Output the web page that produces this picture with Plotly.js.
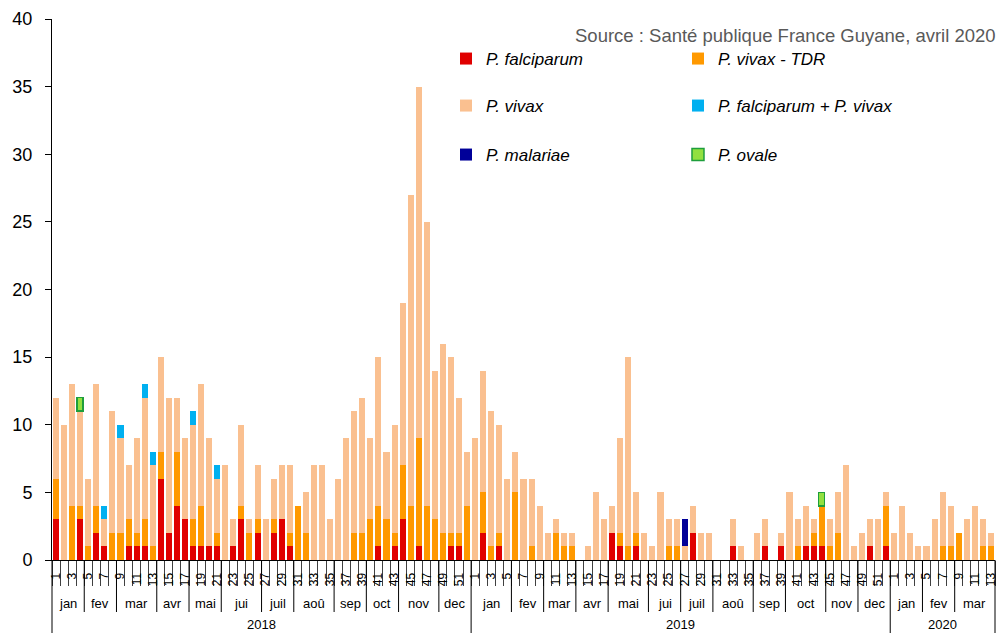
<!DOCTYPE html>
<html><head><meta charset="utf-8">
<script src="https://cdn.plot.ly/plotly-3.0.1.min.js"></script>
<style>html,body{margin:0;padding:0;background:#fff}#chart{width:1006px;height:633px}</style>
</head><body><div id="chart"></div>
<script>
// ---- Calendar / axis labels ----
const years = ['2018', '2019', '2020'];
const weeksInYear = [52, 52, 13];
const monthNames = [
  ['jan','fev','mar','avr','mai','jui','juil','aoû','sep','oct','nov','dec'],
  ['jan','fev','mar','avr','mai','jui','juil','aoû','sep','oct','nov','dec'],
  ['jan','fev','mar']
];
const monthLastWeek = [
  [4, 8, 13, 17, 21, 26, 30, 35, 39, 43, 48, 52],
  [5, 9, 13, 17, 22, 26, 30, 35, 39, 44, 48, 52],
  [4, 8, 13]
];

// ---- Weekly cases (2018 w1 … 2020 w13) ----
const falciparum = [
  3,0,0,3,0,2,1,0,0,1, 1,1,0,6,2,4,3,1,1,1, 1,0,1,3,0,2,0,2,3,1, 0,0,0,0,0,0,0,0,0,0, 1,0,1,3,0,1,0,0,0,1, 1,0,
  0,2,0,1,0,0,0,0,0,0, 0,0,0,0,0,0,0,2,1,0, 1,0,0,0,0,0,0,2,0,0, 0,0,1,0,0,0,1,0,1,0, 0,1,1,1,0,0,0,0,0,1, 0,1,
  0,0,0,0,0,0,0,0,0,0, 0,0,0
];
const vivaxTDR = [
  3,0,4,1,1,2,0,2,2,2, 1,2,1,2,0,4,0,2,3,0, 1,0,0,1,2,1,0,1,0,1, 4,2,0,0,0,0,0,2,2,3, 3,3,1,4,4,8,4,3,2,1, 1,4,
  0,3,1,1,0,5,0,1,0,0, 2,1,1,0,0,0,0,0,1,1, 1,0,0,0,1,1,0,0,0,0, 0,0,0,0,0,0,0,0,0,0, 1,0,1,3,1,2,0,0,0,0, 0,3,
  0,0,0,0,0,0,1,1,2,0, 0,1,1
];
const vivax = [
  6,10,9,7,5,9,2,9,7,4, 7,9,6,7,10,4,6,7,9,8, 4,7,2,6,1,4,3,3,4,5, 0,3,7,7,3,6,9,9,10,6, 11,5,8,12,23,26,21,11,14,13, 10,4,
  9,9,10,8,6,3,6,5,4,2, 1,1,1,0,1,5,3,2,7,14, 3,2,1,5,2,2,1,2,2,2, 0,0,2,1,0,2,2,0,1,5, 2,3,1,0,2,3,7,1,2,2, 3,1,
  2,4,2,1,1,3,4,3,0,3, 4,2,1
];
const mixed = [
  0,0,0,0,0,0,1,0,1,0, 0,1,1,0,0,0,0,1,0,0, 1,0,0,0,0,0,0,0,0,0, 0,0,0,0,0,0,0,0,0,0, 0,0,0,0,0,0,0,0,0,0, 0,0,
  0,0,0,0,0,0,0,0,0,0, 0,0,0,0,0,0,0,0,0,0, 0,0,0,0,0,0,0,0,0,0, 0,0,0,0,0,0,0,0,0,0, 0,0,0,0,0,0,0,0,0,0, 0,0,
  0,0,0,0,0,0,0,0,0,0, 0,0,0
];
const malariae = [
  0,0,0,0,0,0,0,0,0,0, 0,0,0,0,0,0,0,0,0,0, 0,0,0,0,0,0,0,0,0,0, 0,0,0,0,0,0,0,0,0,0, 0,0,0,0,0,0,0,0,0,0, 0,0,
  0,0,0,0,0,0,0,0,0,0, 0,0,0,0,0,0,0,0,0,0, 0,0,0,0,0,0,2,0,0,0, 0,0,0,0,0,0,0,0,0,0, 0,0,0,0,0,0,0,0,0,0, 0,0,
  0,0,0,0,0,0,0,0,0,0, 0,0,0
];
const ovale = [
  0,0,0,1,0,0,0,0,0,0, 0,0,0,0,0,0,0,0,0,0, 0,0,0,0,0,0,0,0,0,0, 0,0,0,0,0,0,0,0,0,0, 0,0,0,0,0,0,0,0,0,0, 0,0,
  0,0,0,0,0,0,0,0,0,0, 0,0,0,0,0,0,0,0,0,0, 0,0,0,0,0,0,0,0,0,0, 0,0,0,0,0,0,0,0,0,0, 0,0,0,1,0,0,0,0,0,0, 0,0,
  0,0,0,0,0,0,0,0,0,0, 0,0,0
];
const seriesNames = ['P. falciparum', 'P. vivax - TDR', 'P. vivax', 'P. falciparum + P. vivax', 'P. malariae', 'P. ovale'];
const sourceText = 'Source : Santé publique France Guyane, avril 2020';

// ---- Geometry ----
const W = 1006, H = 633, ML = 52, MR = 11, MT = 19, MB = 73;
const plotH = H - MT - MB;
const py = p => (H - MB - p) / plotH;   // pixel row -> paper y
const FONT = 'Liberation Sans, Arial, sans-serif';

const N = weeksInYear.reduce((a, b) => a + b, 0);
const xPos = Array.from({length: N}, (_, i) => i + 1);

// week tick labels (odd weeks)
const tickVals = [], tickText = [];
let off = 0;
weeksInYear.forEach(n => {
  for (let w = 1; w <= n; w += 2) { tickVals.push(off + w); tickText.push(String(w)); }
  off += n;
});
const boundaries = Array.from({length: N + 1}, (_, i) => i + 0.5);

// separators and month / year labels
const shapes = [], annotations = [];
off = 0;
weeksInYear.forEach((n, yi) => {
  shapes.push({type: 'line', xref: 'paper', yref: 'paper', x0: off / N, x1: off / N, y0: 0, y1: py(H), line: {color: '#000', width: 1}});
  let start = 1;
  monthLastWeek[yi].forEach((end, mi) => {
    if (end < n) {
      const xb = (off + end) / N;
      shapes.push({type: 'line', xref: 'paper', yref: 'paper', x0: xb, x1: xb, y0: 0, y1: py(612), line: {color: '#000', width: 1}});
    }
    annotations.push({xref: 'x', yref: 'paper', x: off + (start + end) / 2, y: py(603), yanchor: 'middle', xanchor: 'center',
      text: monthNames[yi][mi], showarrow: false, font: {family: FONT, size: 13, color: '#000'}});
    start = end + 1;
  });
  annotations.push({xref: 'x', yref: 'paper', x: off + (n + 1) / 2, y: py(624), yanchor: 'middle', xanchor: 'center',
    text: years[yi], showarrow: false, font: {family: FONT, size: 13, color: '#000'}});
  off += n;
});
shapes.push({type: 'line', xref: 'paper', yref: 'paper', x0: 1, x1: 1, y0: 0, y1: py(H), line: {color: '#000', width: 1}});

annotations.push({xref: 'paper', yref: 'paper', x: (998 - ML) / (W - ML - MR), y: py(36), xanchor: 'right', yanchor: 'middle',
  text: sourceText, showarrow: false, font: {family: FONT, size: 18.5, color: '#595959'}});

const values = [falciparum, vivaxTDR, vivax, mixed, malariae, ovale];
const colors = ['#E00000', '#FF9900', '#FAC090', '#00B0F0', '#000099', '#92E040'];
const lineColors = ['#E00000', '#FF9900', '#FAC090', '#00B0F0', '#000099', '#1E9E3C'];
const lineWidths = [0, 0, 0, 0, 0, 1.5];
const legendIds = ['legend', 'legend', 'legend2', 'legend2', 'legend3', 'legend3'];

// zero counts are not drawn (null), so outlines only appear on real segments
const traces = values.map((v, k) => ({
  type: 'bar', x: xPos, y: v.map(val => val > 0 ? val : null), name: seriesNames[k],
  marker: {color: colors[k], line: {color: lineColors[k], width: lineWidths[k]}},
  legend: legendIds[k], showlegend: true, hoverinfo: 'skip'
}));

const legendBase = {
  orientation: 'h', x: 0.4178, xanchor: 'left', yanchor: 'middle',
  entrywidth: 187, entrywidthmode: 'pixels', bgcolor: 'rgba(0,0,0,0)', borderwidth: 0,
  font: {family: FONT, size: 17, color: '#000', style: 'italic'}, traceorder: 'normal'
};

const layout = {
  width: W, height: H,
  margin: {l: ML, r: MR, t: MT, b: MB, pad: 0},
  paper_bgcolor: '#fff', plot_bgcolor: '#fff',
  barmode: 'stack', bargap: 0.25,
  font: {family: FONT, color: '#000'},
  xaxis: {
    range: [0.5, N + 0.5], showline: true, linecolor: '#000', linewidth: 1,
    tickmode: 'array', tickvals: tickVals, ticktext: tickText, tickangle: -90,
    ticks: '', tickfont: {family: FONT, size: 12, color: '#000'}, ticklabelstandoff: 7,
    minor: {tickmode: 'array', tickvals: boundaries, ticks: 'outside', ticklen: 25, tickwidth: 1, tickcolor: '#404040', showgrid: false},
    showgrid: false, zeroline: false, fixedrange: true
  },
  yaxis: {
    range: [0, 40], tickmode: 'array', tickvals: [0, 5, 10, 15, 20, 25, 30, 35, 40],
    ticks: 'outside', ticklen: 6, tickwidth: 1, tickcolor: '#000',
    showline: true, linecolor: '#000', linewidth: 1,
    tickfont: {family: FONT, size: 18, color: '#000'}, ticklabelstandoff: 9,
    showgrid: false, zeroline: false, fixedrange: true
  },
  legend: Object.assign({}, legendBase, {y: py(59)}),
  legend2: Object.assign({}, legendBase, {y: py(106)}),
  legend3: Object.assign({}, legendBase, {y: py(155)}),
  shapes: shapes, annotations: annotations
};

Plotly.newPlot('chart', traces, layout, {displayModeBar: false, staticPlot: true});
</script>
</body></html>
